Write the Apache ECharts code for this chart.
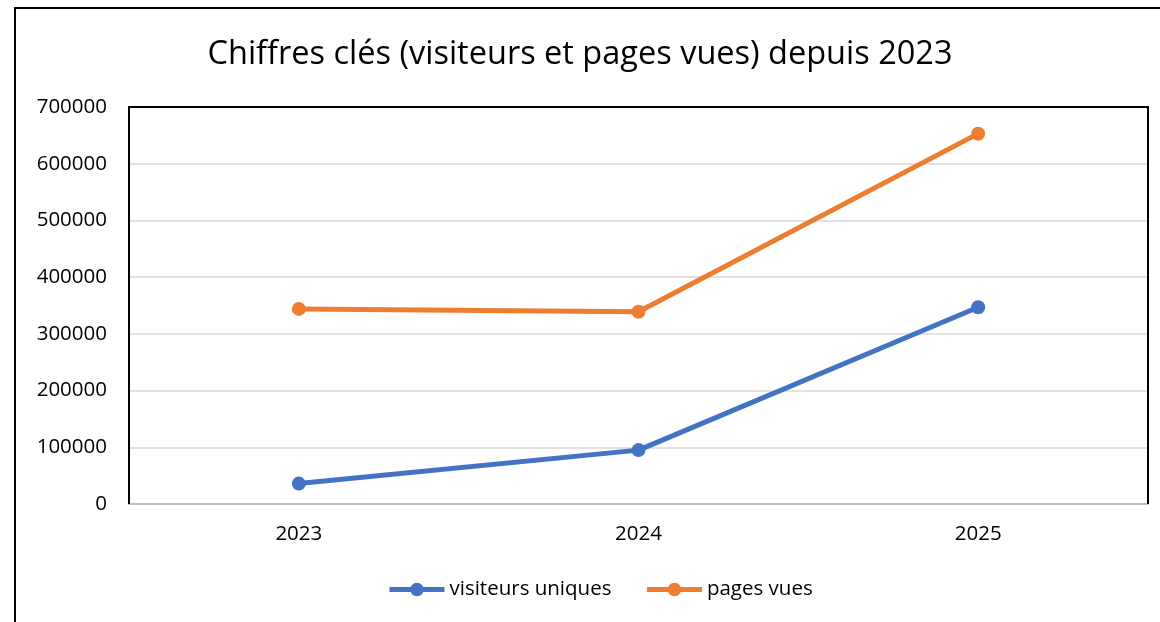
<!DOCTYPE html>
<html>
<head>
<meta charset="utf-8">
<script src="https://cdn.jsdelivr.net/npm/echarts@6/dist/echarts.min.js"></script>
<style>html,body{margin:0;padding:0;background:#fff;}#c{width:1160px;height:622px;}</style>
</head>
<body>
<div id="c"></div>
<script>
const categories = ['2023', '2024', '2025'];
const visiteursUniques = [36000, 95000, 347000];
const pagesVues = [344000, 339000, 653000];
const yTicks = [0, 100000, 200000, 300000, 400000, 500000, 600000, 700000];

const FONT = 'Open Sans';
const chart = echarts.init(document.getElementById('c'), null, {renderer: 'canvas'});
const L = 129, T = 107, R = 1148, B = 504;
chart.setOption({
  animation: false,
  backgroundColor: '#fff',
  textStyle: {fontFamily: FONT},
  title: {
    text: 'Chiffres clés (visiteurs et pages vues) depuis 2023',
    left: 'center', top: 33,
    textStyle: {fontFamily: FONT, fontSize: 32.5, fontWeight: 'normal', color: '#000'}
  },
  graphic: [{
    type: 'rect', z: 100,
    shape: {x: 15, y: 8, width: 1200, height: 700},
    style: {fill: 'none', stroke: '#000', lineWidth: 2}
  }, {
    type: 'polyline', z: 100,
    shape: {points: [[L, B], [L, T], [R, T], [R, B]]},
    style: {fill: 'none', stroke: '#000', lineWidth: 2}
  }],
  legend: {
    bottom: 17, left: 382, itemGap: 33, itemWidth: 55, itemHeight: 17,
    textStyle: {fontFamily: FONT, fontSize: 20.5, color: '#000'},
    lineStyle: {width: 5},
    data: ['visiteurs uniques', 'pages vues']
  },
  grid: {
    left: L, right: 1160 - R, top: T, bottom: 622 - B
  },
  xAxis: {
    type: 'category', data: categories, boundaryGap: true,
    axisLine: {lineStyle: {color: '#BFBFBF', width: 2}},
    axisTick: {show: false},
    axisLabel: {fontFamily: FONT, fontSize: 20.5, color: '#000', margin: 20}
  },
  yAxis: {
    type: 'value', min: yTicks[0], max: yTicks[yTicks.length - 1], interval: 100000,
    axisLine: {show: false}, axisTick: {show: false},
    axisLabel: {fontFamily: FONT, fontSize: 20.5, color: '#000', margin: 22,
      formatter: v => String(v)},
    splitLine: {lineStyle: {color: '#D9D9D9', width: 1.5}}
  },
  series: [{
    name: 'visiteurs uniques', type: 'line', data: visiteursUniques,
    symbol: 'circle', symbolSize: 14,
    lineStyle: {width: 5, color: '#4472C4'}, itemStyle: {color: '#4472C4'}
  }, {
    name: 'pages vues', type: 'line', data: pagesVues,
    symbol: 'circle', symbolSize: 14,
    lineStyle: {width: 5, color: '#ED7D31'}, itemStyle: {color: '#ED7D31'}
  }]
});
</script>
</body>
</html>
